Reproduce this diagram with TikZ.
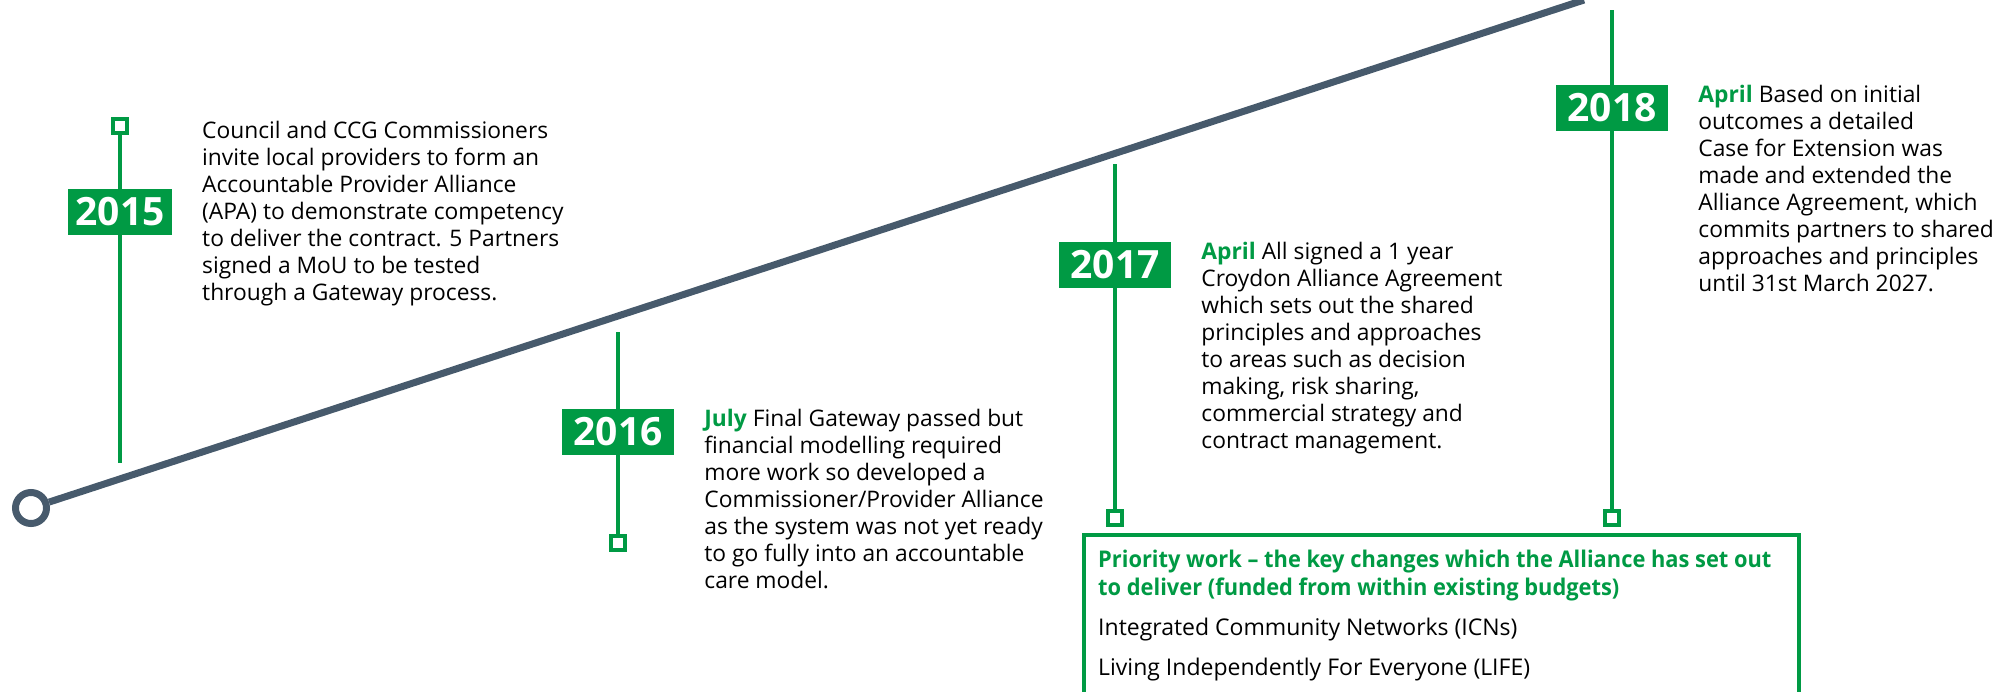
\documentclass[tikz,border=0pt]{standalone}
\usepackage{fontspec}
\setmainfont{Open Sans}
\newfontfamily\condfont[FakeStretch=0.95]{Open Sans}
\usepackage{tikz}
\usetikzlibrary{positioning}
\definecolor{nhsgreen}{RGB}{0,154,68}
\definecolor{linegrey}{RGB}{71,90,108}
\newcommand{\storyfont}{\fontsize{22.8}{27}\selectfont}
\newcommand{\yearfont}{\fontsize{39}{39}\selectfont\bfseries}
\newcommand{\mon}[1]{\textcolor{nhsgreen}{\bfseries #1}}
\tikzstyle{year} = [rectangle, fill=nhsgreen, text=white, minimum width=112pt, minimum height=46pt, inner sep=0pt, font=\yearfont]
\tikzstyle{marker} = [rectangle, draw=nhsgreen, line width=3.5pt, fill=white, minimum size=14pt, inner sep=0pt]
\tikzstyle{stem} = [draw=nhsgreen, line width=4pt]
\tikzstyle{track} = [draw=linegrey, line width=7pt]
\tikzstyle{story} = [anchor=north west, align=left, inner sep=0pt, font=\storyfont]

\begin{document}
\begin{tikzpicture}[x=1pt, y=-1pt]
    \useasboundingbox (0,0) rectangle (2011,691);

    % the timeline itself
    \node (origin) [circle, draw=linegrey, line width=7pt, minimum size=31pt, inner sep=0pt] at (31,508) {};
    \coordinate (trackend) at (1584,0);
    \draw [track] (origin) -- (trackend);

    % markers and stems
    \node (m15) [marker] at (120,126) {};
    \node (m16) [marker] at (618,543) {};
    \node (m17) [marker] at (1115,518) {};
    \node (m18) [marker] at (1612,518) {};
    \coordinate (s15) at (120,463);
    \coordinate (s16) at (618,332);
    \coordinate (s17) at (1115,164);
    \coordinate (s18) at (1612,10);
    \draw [stem] (m15) -- (s15);
    \draw [stem] (s16) -- (m16);
    \draw [stem] (s17) -- (m17);
    \draw [stem] (s18) -- (m18);

    % year boxes
    \node (y15) [year, minimum width=104pt] at (120,212) {2015};
    \node (y16) [year] at (618,432) {2016};
    \node (y17) [year] at (1115,265) {2017};
    \node (y18) [year] at (1612,108) {2018};

    % what happened
    \node (t15) [story] at (202,121) {Council and CCG Commissioners\\invite local providers to form an\\Accountable Provider Alliance\\(APA) to demonstrate competency\\to deliver the contract. 5 Partners\\signed a MoU to be tested\\through a Gateway process.};
    \node (t16) [right=30pt of y16.north east, story] {\mon{July} Final Gateway passed but\\financial modelling required\\more work so developed a\\Commissioner/Provider Alliance\\as the system was not yet ready\\to go fully into an accountable\\care model.};
    \node (t17) [right=30pt of y17.north east, story] {\mon{April} All signed a 1 year\\Croydon Alliance Agreement\\which sets out the shared\\principles and approaches\\to areas such as decision\\making, risk sharing,\\commercial strategy and\\contract management.};
    \node (t18) [right=30pt of y18.north east, story] {\mon{April} Based on initial\\outcomes a detailed\\Case for Extension was\\made and extended the\\Alliance Agreement, which\\commits partners to shared\\approaches and principles\\until 31st March 2027.};

    % priority work box
    \node (frame) [rectangle, draw=nhsgreen, line width=3.5pt, minimum width=715pt, minimum height=220pt, anchor=north west] at (1082,533) {};
    \node (prio) [below right=17pt and 16pt of frame.north west, anchor=north west, align=left, inner sep=0pt, font=\fontsize{23}{28}\selectfont] {{\condfont\bfseries\color{nhsgreen}Priority work \textendash{} the key changes which the Alliance has set out}\\{\condfont\bfseries\color{nhsgreen}to deliver (funded from within existing budgets)}\\[12pt]Integrated Community Networks (ICNs)\\[12pt]Living Independently For Everyone (LIFE)};
\end{tikzpicture}
\end{document}
